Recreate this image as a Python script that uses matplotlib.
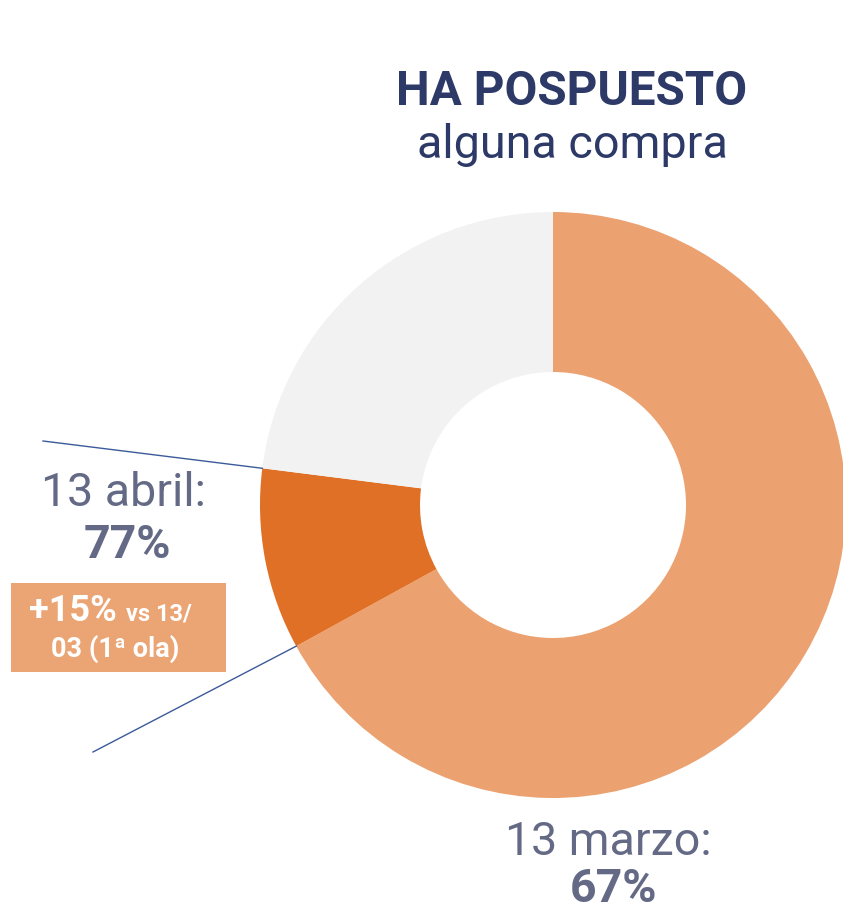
import numpy as np
import matplotlib
matplotlib.use("Agg")
import matplotlib.pyplot as plt

# share of people who postponed a purchase
segments = ["13 marzo", "incremento 13 abril", "resto"]
values = [67, 10, 23]
colors = ["#EBA170", "#E07025", "#F2F2F2"]

title_bold = "HA POSPUESTO"
title_reg = "alguna compra"
label_marzo = "13 marzo:"
pct_marzo = 67
label_abril = "13 abril:"
pct_abril = 77
delta_txt = "+15%"
delta_rest1 = "vs 13/"
delta_rest2 = "03 (1ª ola)"

W, H = 843, 910
CX, CY = 553, H - 505      # donut centre (data coords = pixels, y up)
R, RIN = 293, 133

TXT = "#646A85"
NAVY = "#2D3A68"
LINE = "#3B5A9A"

plt.rcParams["font.family"] = ["Roboto", "DejaVu Sans"]

fig = plt.figure(figsize=(W / 100, H / 100), dpi=100)
ax = fig.add_axes([0, 0, 1, 1])
ax.pie(values, colors=colors, startangle=90, counterclock=False,
       radius=R, center=(CX, CY), wedgeprops=dict(width=R - RIN, linewidth=0))
ax.set_xlim(0, W); ax.set_ylim(0, H)
ax.set_aspect("equal"); ax.axis("off")

# title
ax.text(572, H - 105, title_bold, ha="center", va="baseline", fontsize=34.3,
        fontweight="bold", color=NAVY)
ax.text(572, H - 158, title_reg, ha="center", va="baseline", fontsize=33.7,
        color=NAVY)

# leader lines to the two segment boundaries
cum = np.cumsum(values) / sum(values)
for frac, (ox, oy) in [(cum[1], (43, H - 441)), (cum[0], (93, H - 752))]:
    a = np.deg2rad(90 - 360 * frac)
    ax.plot([ox, CX + R * np.cos(a)], [oy, CY + R * np.sin(a)], color=LINE, lw=1)

# 13 abril label
ax.text(123, H - 506, label_abril, ha="center", va="baseline", fontsize=33.5, color=TXT)
ax.text(127, H - 558, f"{pct_abril}%", ha="center", va="baseline", fontsize=33.5,
        fontweight="bold", color=TXT)

# change box
ax.add_patch(plt.Rectangle((11, H - 672), 215, 89, color="#EBA574", lw=0))
ax.text(117, H - 621, delta_txt, ha="right", va="baseline", fontsize=26,
        fontweight="bold", color="white")
ax.text(126, H - 621, delta_rest1, ha="left", va="baseline", fontsize=17,
        fontweight="bold", color="white")
ax.text(115, H - 657, delta_rest2, ha="center", va="baseline", fontsize=19.5,
        fontweight="bold", color="white")

# 13 marzo label
ax.text(608, H - 855, label_marzo, ha="center", va="baseline", fontsize=33.5, color=TXT)
ax.text(613, H - 902, f"{pct_marzo}%", ha="center", va="baseline", fontsize=33.5,
        fontweight="bold", color=TXT)

fig.savefig("out.png", dpi=100)
